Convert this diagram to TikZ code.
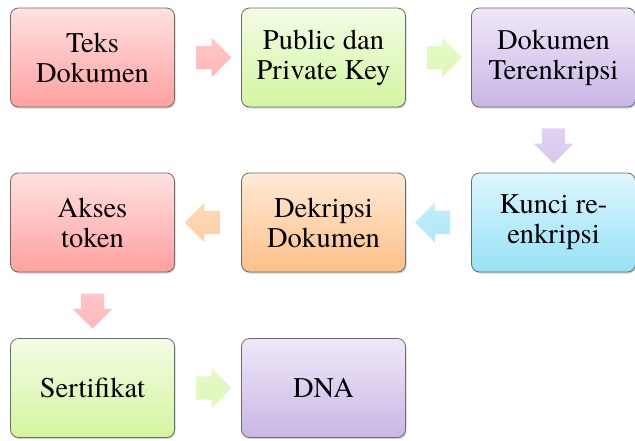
\documentclass[tikz,border=0pt]{standalone}
\usepackage{fontspec}
\newfontfamily\boxfont{texgyretermes}[Extension=.otf, UprightFont=*-regular]
\usetikzlibrary{shapes, arrows.meta, positioning, shadows}
\definecolor{cRedA}{RGB}{255,225,225}
\definecolor{cRedB}{RGB}{255,160,160}
\definecolor{cGreenA}{RGB}{243,252,228}
\definecolor{cGreenB}{RGB}{212,245,160}
\definecolor{cPurpleA}{RGB}{240,232,248}
\definecolor{cPurpleB}{RGB}{200,182,230}
\definecolor{cOrangeA}{RGB}{255,234,214}
\definecolor{cOrangeB}{RGB}{252,192,135}
\definecolor{cCyanA}{RGB}{222,246,255}
\definecolor{cCyanB}{RGB}{150,225,245}
\begin{document}
\begin{tikzpicture}[x=1pt, y=-1pt,
            box/.style={rectangle, rounded corners=8pt, draw=gray!85!black, line width=0.8pt,
                minimum width=164pt, minimum height=99pt, align=center, inner sep=2pt,
                font=\boxfont\fontsize{28.5}{30}\selectfont,
                drop shadow={shadow xshift=1pt, shadow yshift=-1.5pt, opacity=0.35}},
            blk/.style={single arrow, draw=none, minimum height=35pt, inner xsep=0pt,
                inner ysep=11.5pt, single arrow head extend=8pt, single arrow tip angle=90},
            blkv/.style={blk, inner xsep=11.5pt, inner ysep=0pt}]
            \useasboundingbox (0,0) rectangle (635,440);
            \foreach \n/\x/\y/\c/\t in {teks/92.5/57.5/cRed/{Teks\\Dokumen},
                                        keys/323.5/57.5/cGreen/{Public dan\\Private Key},
                                        enkr/553.5/57.5/cPurple/{Dokumen\\Terenkripsi},
                                        rekey/553.5/222.5/cCyan/{Kunci re-\\enkripsi},
                                        dekr/323.5/222.5/cOrange/{Dekripsi\\Dokumen},
                                        akses/92.5/222.5/cRed/{Akses\\token},
                                        sert/92.5/388/cGreen/{Sertifikat},
                                        dna/323.5/388/cPurple/{DNA}}{
                \node[box, top color=\c A, bottom color=\c B] (\n) at (\x,\y) {\t};}
            % block arrows between the steps
            \foreach \a/\b/\c/\s/\r in {teks/keys/cRed/blk/0, keys/enkr/cGreen/blk/0,
                                        enkr/rekey/cPurple/blkv/270, rekey/dekr/cCyan/blk/180,
                                        dekr/akses/cOrange/blk/180, akses/sert/cRed/blkv/270,
                                        sert/dna/cGreen/blk/0}{
                \path (\a) -- (\b) node[midway, \s, shape border rotate=\r,
                    top color=\c A!60!\c B, bottom color=\c B!75!white] (\a-\b) {};}
        \end{tikzpicture}
\end{document}
